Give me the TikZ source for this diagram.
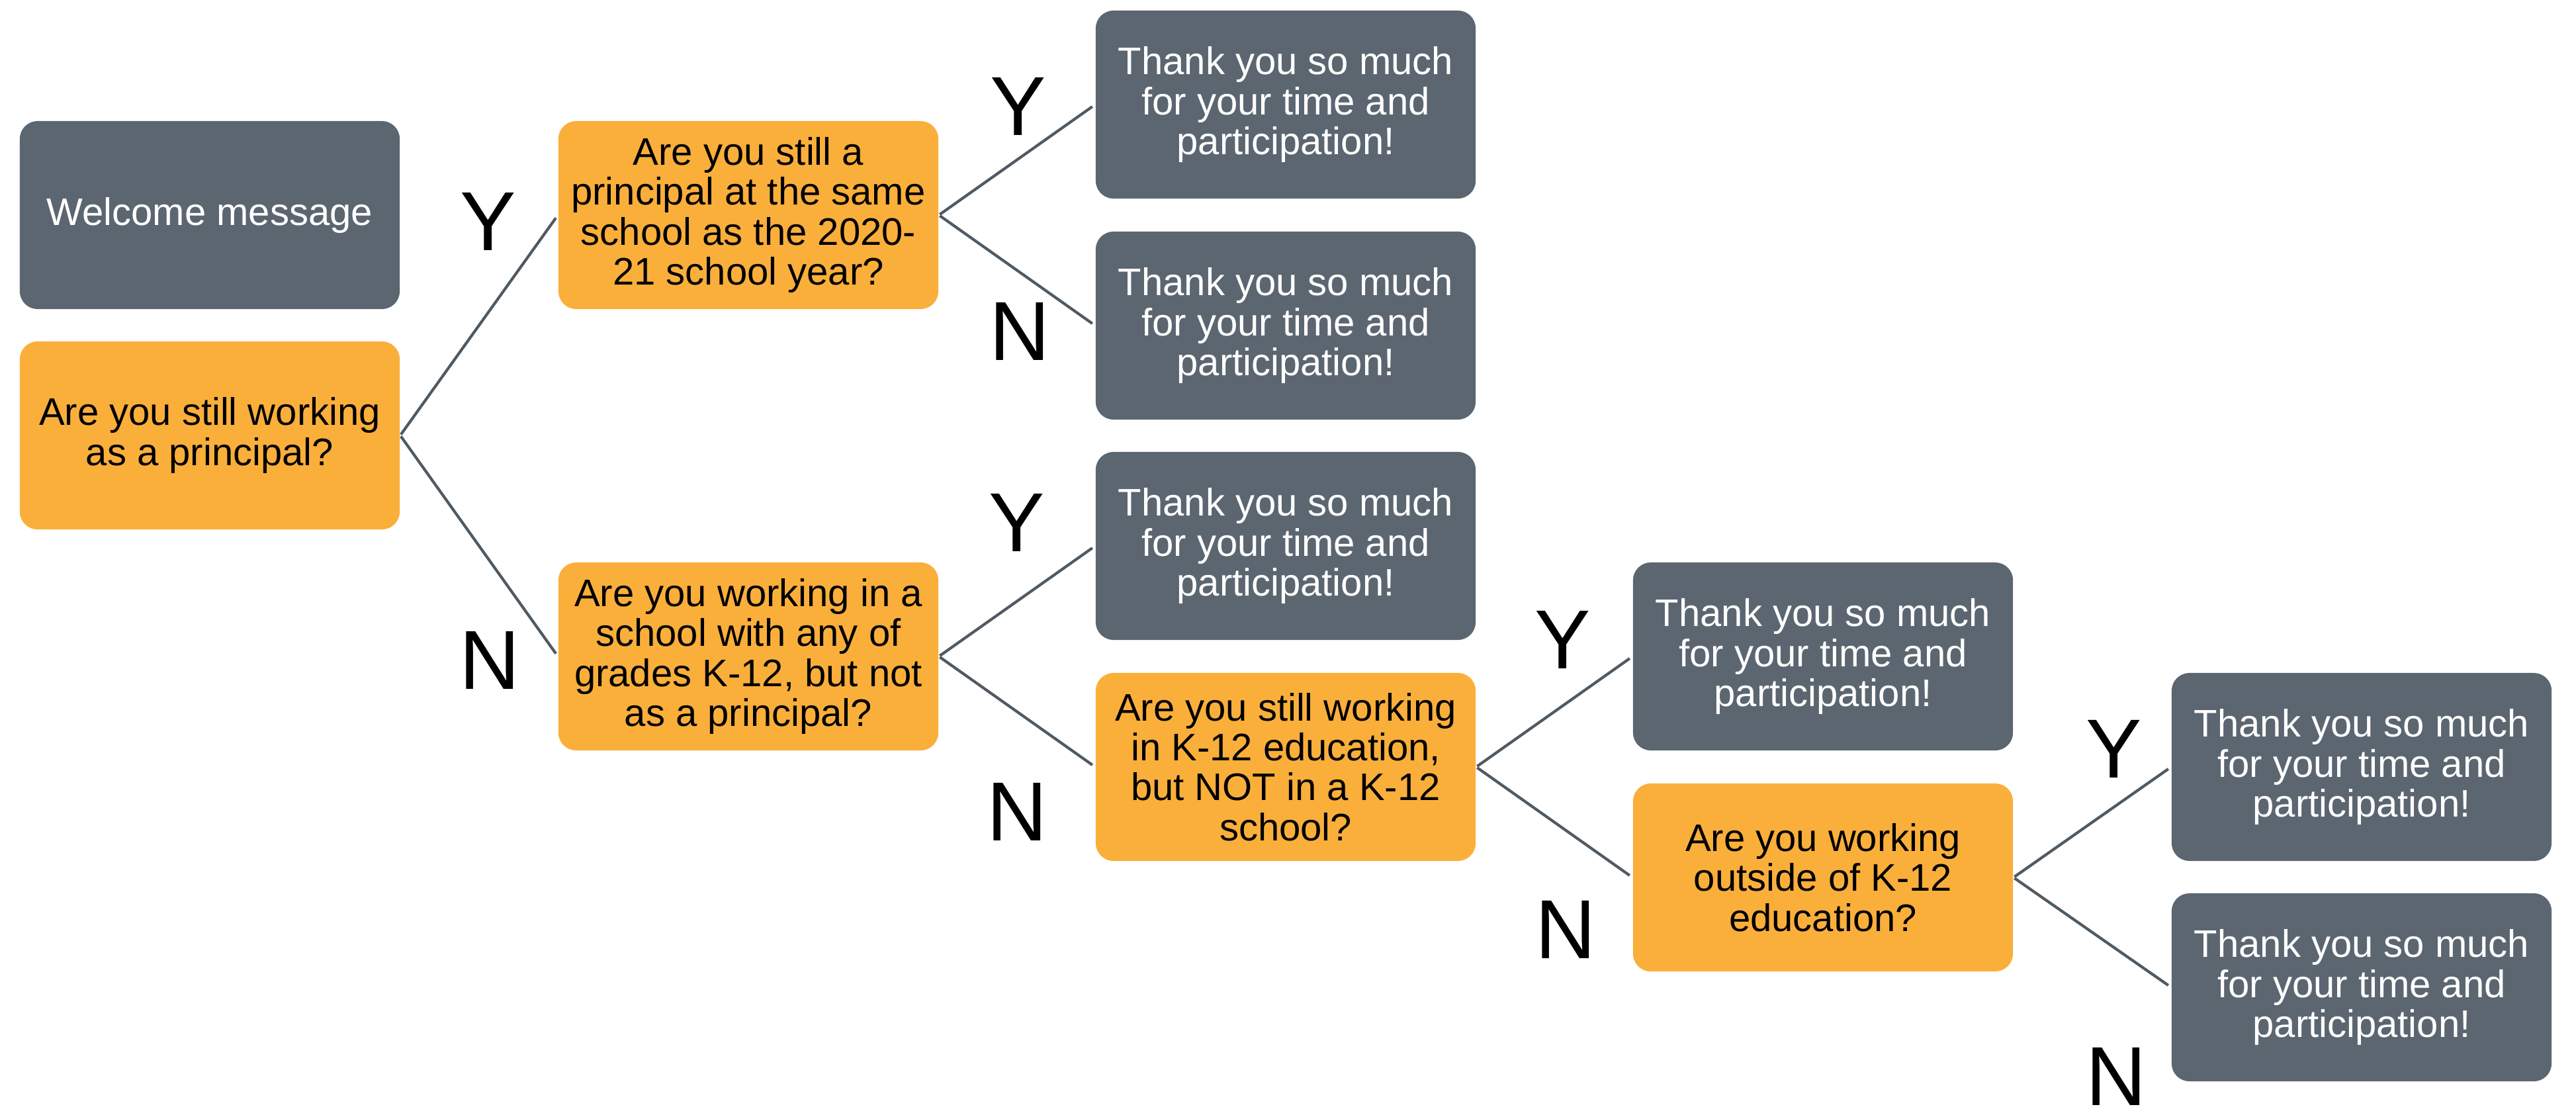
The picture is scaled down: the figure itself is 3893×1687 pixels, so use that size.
\documentclass[tikz,border=0pt]{standalone}
\usepackage{fontspec}
\setmainfont{Liberation Sans}
\definecolor{slate}{HTML}{5B6670}
\definecolor{slateline}{HTML}{4F5A63}
\definecolor{amber}{HTML}{FAAF3B}
\begin{document}
\begin{tikzpicture}[x=0.01cm,y=-0.01cm,
  box/.style={rounded corners=0.27cm, minimum width=5.74cm, minimum height=2.84cm,
    align=center, inner sep=0pt, font=\fontsize{16.5}{17.15}\selectfont},
  question/.style={box, fill=amber, text=black},
  closing/.style={box, fill=slate, text=white},
  branch/.style={draw=slateline, line width=1.2pt, shorten >=1.5pt, shorten <=0.5pt},
  answer/.style={font=\fontsize{36}{36}\selectfont, text=black, inner sep=0pt}]
\useasboundingbox (0,0) rectangle (3893,1687);

% first column
\node[closing]  (welcome) at (317,325)  {Welcome message};
\node[question] (q1)      at (317,658)  {Are you still working\\as a principal?};

% second column
\node[question] (q2) at (1131,325) {Are you still a\\principal at the same\\school as the 2020-\\21 school year?};
\node[question] (q3) at (1131,992) {Are you working in a\\school with any of\\grades K-12, but not\\as a principal?};

% third column
\node[closing]  (t1) at (1943,158)  {Thank you so much\\for your time and\\participation!};
\node[closing]  (t2) at (1943,492)  {Thank you so much\\for your time and\\participation!};
\node[closing]  (t3) at (1943,825)  {Thank you so much\\for your time and\\participation!};
\node[question] (q4) at (1943,1159) {Are you still working\\in K-12 education,\\but NOT in a K-12\\school?};

% fourth column
\node[closing]  (t4) at (2755,992)  {Thank you so much\\for your time and\\participation!};
\node[question] (q5) at (2755,1326) {Are you working\\outside of K-12\\education?};

% fifth column
\node[closing]  (t5) at (3569,1159) {Thank you so much\\for your time and\\participation!};
\node[closing]  (t6) at (3569,1492) {Thank you so much\\for your time and\\participation!};

% branches
\draw[branch] (q1.east) -- (q2.west);
\draw[branch] (q1.east) -- (q3.west);
\draw[branch] (q2.east) -- (t1.west);
\draw[branch] (q2.east) -- (t2.west);
\draw[branch] (q3.east) -- (t3.west);
\draw[branch] (q3.east) -- (q4.west);
\draw[branch] (q4.east) -- (t4.west);
\draw[branch] (q4.east) -- (q5.west);
\draw[branch] (q5.east) -- (t5.west);
\draw[branch] (q5.east) -- (t6.west);

% answer labels
\node[answer] (y1) at (738,335)   {Y};
\node[answer] (n1) at (740,998)   {N};
\node[answer] (y2) at (1539,161)  {Y};
\node[answer] (n2) at (1541,501)  {N};
\node[answer] (y3) at (1537,790)  {Y};
\node[answer] (n3) at (1537,1227) {N};
\node[answer] (y4) at (2362,967)  {Y};
\node[answer] (n4) at (2366,1405) {N};
\node[answer] (y5) at (3195,1132) {Y};
\node[answer] (n5) at (3198,1627) {N};
\end{tikzpicture}
\end{document}
